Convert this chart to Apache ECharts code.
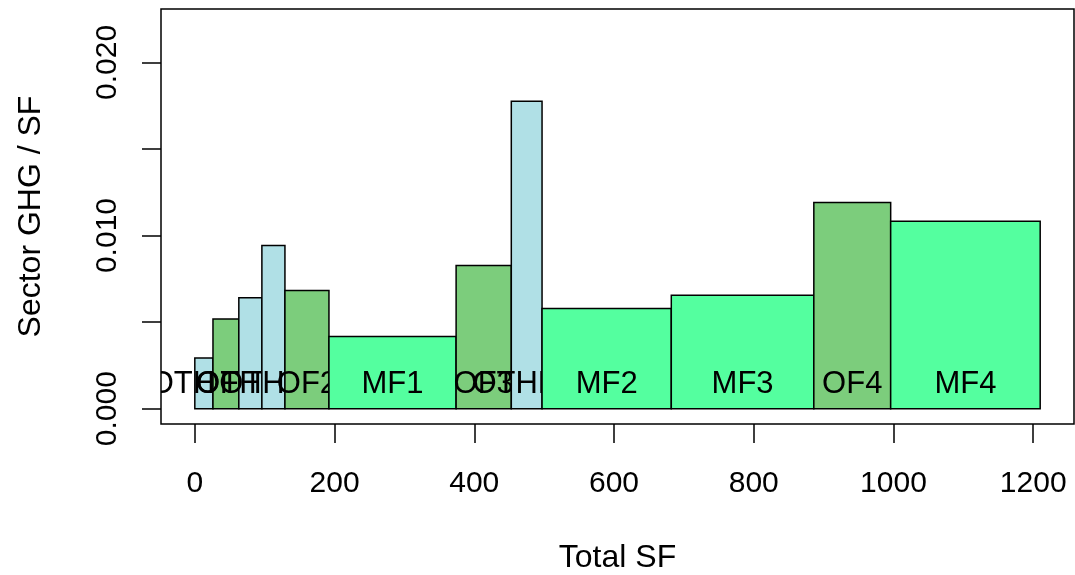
<!DOCTYPE html>
<html>
<head>
<meta charset="utf-8">
<script src="https://cdn.jsdelivr.net/npm/echarts@6/dist/echarts.min.js"></script>
<style>
html,body{margin:0;padding:0;background:#fff;}
#chart{width:1075px;height:575px;}
</style>
</head>
<body>
<div id="chart"></div>
<script>
// ---- data ----
const labels  = ['OTHER','OF1','OTHER','OTHER','OF2','MF1','OF3','OTHER','MF2','MF3','OF4','MF4'];
const sectors = ['OTH','OF','OTH','OTH','OF','MF','OF','OTH','MF','MF','OF','MF'];
const widths  = [26, 37, 33, 33, 63, 182, 79, 44, 185, 204, 110, 214];   // Total SF per bar
const values  = [0.00293, 0.00518, 0.0064, 0.00942, 0.00682, 0.00416, 0.00827, 0.01776, 0.00578, 0.00655, 0.01191, 0.01083];
const xTicks  = [0, 200, 400, 600, 800, 1000, 1200];
const yTicks  = [0, 0.005, 0.01, 0.015, 0.02];
const yTickLabels = [0, 0.01, 0.02];
const labelY  = 0.0014;

const sectorColors = { OTH: '#B0E0E6', OF: '#7CCD7C', MF: '#54FF9F' };

// build bar extents
const rows = [];
let acc = 0;
for (let i = 0; i < widths.length; i++) {
  rows.push([acc, acc + widths[i], values[i], i]);
  acc += widths[i];
}
const total = acc;
const xPad = 0.04 * total;
const yTop = 1.25 * Math.max.apply(null, values);
const yPad = 0.04 * yTop;

const FONT = '"Liberation Sans", Arial, Helvetica, sans-serif';
const FS = 30;
const FS_NAME = 32;
const FS_BAR = 31;

const chart = echarts.init(document.getElementById('chart'), null, { renderer: 'canvas' });
chart.setOption({
  animation: false,
  backgroundColor: '#fff',
  textStyle: { fontFamily: FONT },
  grid: {
    left: 161, right: 1, top: 9, bottom: 151,
    containLabel: false, outerBoundsMode: 'none',
    show: true, borderColor: '#000', borderWidth: 1.5, backgroundColor: 'transparent'
  },
  xAxis: {
    type: 'value',
    min: -xPad, max: total + xPad,
    name: 'Total SF', nameLocation: 'middle', nameGap: 118,
    nameTextStyle: { fontFamily: FONT, fontSize: FS_NAME, color: '#000', lineHeight: FS_NAME },
    axisLine: { show: false, onZero: false },
    splitLine: { show: false },
    axisTick: { show: true, customValues: xTicks, length: 19, lineStyle: { color: '#000', width: 1.5 } },
    axisLabel: { show: true, customValues: xTicks, margin: 45, fontFamily: FONT, fontSize: FS, color: '#000', lineHeight: FS,
      formatter: v => String(v) }
  },
  yAxis: {
    type: 'value',
    min: -yPad, max: yTop + yPad,
    name: 'Sector GHG / SF', nameLocation: 'middle', nameGap: 114, nameRotate: 90,
    nameTextStyle: { fontFamily: FONT, fontSize: FS_NAME, color: '#000', lineHeight: FS_NAME },
    axisLine: { show: false, onZero: false },
    splitLine: { show: false },
    axisTick: { show: true, customValues: yTicks, length: 19, lineStyle: { color: '#000', width: 1.5 } },
    axisLabel: { show: true, customValues: yTickLabels, rotate: 90, margin: 38, fontFamily: FONT, fontSize: FS, color: '#000', lineHeight: FS,
      formatter: v => Number(v).toFixed(3) }
  },
  series: [{
    type: 'custom',
    clip: true,
    data: rows,
    encode: { x: [0, 1], y: 2 },
    renderItem: function (params, api) {
      const x0 = api.value(0), x1 = api.value(1), v = api.value(2), idx = api.value(3);
      const p0 = api.coord([x0, 0]);
      const p1 = api.coord([x1, v]);
      const lp = api.coord([(x0 + x1) / 2, labelY]);
      return {
        type: 'group',
        children: [
          { type: 'rect',
            shape: { x: p0[0], y: p1[1], width: p1[0] - p0[0], height: p0[1] - p1[1] },
            style: { fill: sectorColors[sectors[idx]], stroke: '#000', lineWidth: 1.5 } },
          { type: 'text', x: lp[0], y: lp[1],
            style: { text: labels[idx], fill: '#000', font: FS_BAR + 'px ' + FONT, align: 'center', verticalAlign: 'middle' } }
        ]
      };
    }
  }]
});
</script>
</body>
</html>
